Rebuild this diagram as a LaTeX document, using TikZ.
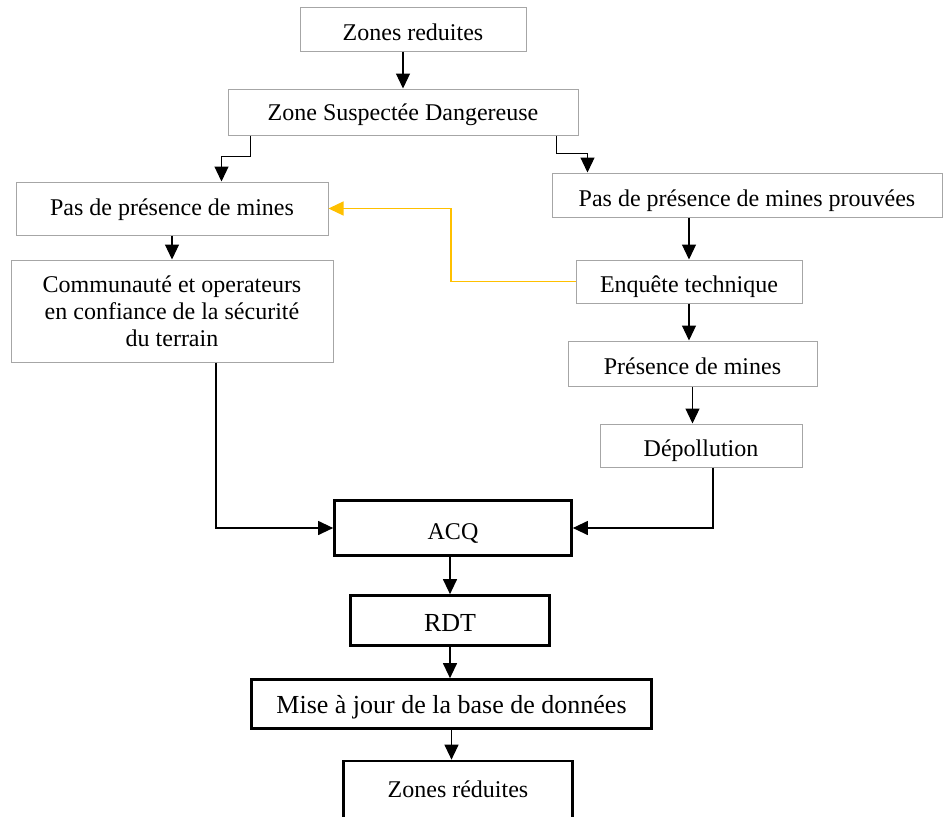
\documentclass[tikz,border=0pt]{standalone}
\usepackage{fontspec}
\setmainfont{Liberation Serif}
\usetikzlibrary{arrows.meta}

\begin{document}
\begin{tikzpicture}[x=1pt,y=-1pt,
  every node/.style={font=\fontsize{24}{27}\selectfont},
  gbox/.style={draw=black!35, line width=1pt, inner sep=0pt, text height=24pt, text depth=2pt},
  kbox/.style={draw=black, line width=2.7pt, inner sep=0pt, text height=24pt, text depth=2pt},
  fl/.style={line width=1.2pt, -{Triangle[length=15pt,width=14pt]}}]
%\draw[help lines,step=50] (0,0) grid (943,817);
\useasboundingbox (0,0) rectangle (943,817);
\clip (0,0) rectangle (943,817);
\fill[white] (0,0) rectangle (943,817);
% left and right branch
\node[gbox, minimum width=226pt, minimum height=44pt] (zr) at (413,29) {Zones reduites};
\node[gbox, minimum width=350pt, minimum height=46pt, text height=19pt, text depth=3pt] (zsd) at (403,112) {Zone Suspectée Dangereuse};
\node[gbox, minimum width=312pt, minimum height=53pt, text height=16pt, text depth=3pt] (pasmines) at (172,208.5) {Pas de présence de mines};
\node[gbox, minimum width=390pt, minimum height=44pt] (prouvees) at (747,195) {Pas de présence de mines prouvées};
\node[gbox, minimum width=322pt, minimum height=102pt, text height=, text depth=, align=center] (commun) at (172,311)
  {Communauté et operateurs\\en confiance de la sécurité\\du terrain};
\node[gbox, minimum width=226pt, minimum height=43pt] (enquete) at (689,281.5) {Enquête technique};
\node[gbox, minimum width=249pt, minimum height=45pt] (presence) at (692.5,363.5) {Présence de mines};
\node[gbox, minimum width=202pt, minimum height=43pt] (depol) at (701,445.5) {Dépollution};
% common trunk
\node[kbox, minimum width=237pt, minimum height=55pt] (acq) at (453,528) {ACQ};
\node[kbox, minimum width=199pt, minimum height=50pt, font=\fontsize{26}{29}\selectfont] (rdt) at (450,620.5) {RDT};
\node[kbox, minimum width=400pt, minimum height=49pt, font=\fontsize{26}{29}\selectfont, text height=20pt] (maj) at (451.5,704) {Mise à jour de la base de données};
\node[kbox, minimum width=229pt, minimum height=58pt, text height=16pt] (zred) at (458,790) {Zones réduites};
\coordinate (bend) at (451,0);

\draw[fl] (zsd.north |- zr.south) -- (zsd.north);
\draw[fl] ([xshift=23pt]zsd.south west) -- ++(0,21) -| ([xshift=206pt]pasmines.north west);
\draw[fl] ([xshift=-22pt]zsd.south east) -- ++(0,18) -| ([xshift=36pt]prouvees.north west);
\draw[fl] (pasmines.south) -- (commun.north);
\draw[fl] (enquete.north |- prouvees.south) -- (enquete.north);
\draw[fl] (enquete.south) -- (enquete.south |- presence.north);
\draw[fl] (presence.south) -- (presence.south |- depol.north);
\draw[fl, draw={rgb,255:red,255;green,192;blue,0}] (enquete.west) -- (enquete.west -| bend) |- (pasmines.east);
\draw[fl] ([xshift=44pt]commun.south) |- (acq.west);
\draw[fl] ([xshift=12pt]depol.south) |- (acq.east);
\draw[fl] (rdt.north |- acq.south) -- (rdt.north);
\draw[fl] (rdt.south) -- (rdt.south |- maj.north);
\draw[fl] (maj.south) -- (maj.south |- zred.north);
\end{tikzpicture}
\end{document}
